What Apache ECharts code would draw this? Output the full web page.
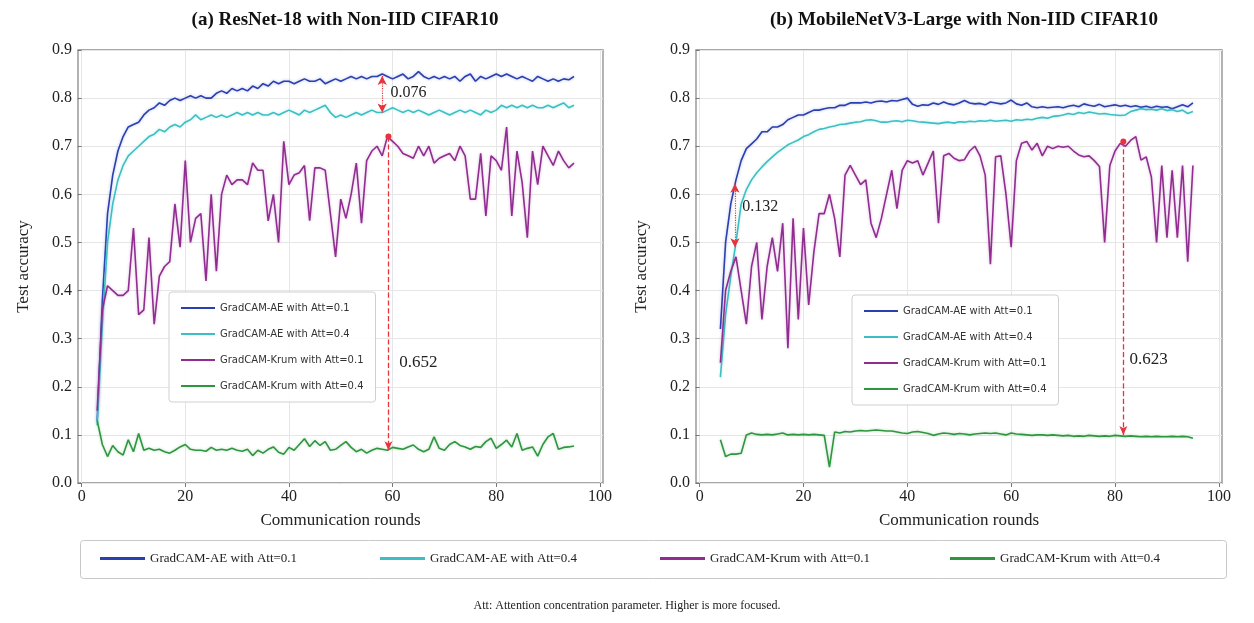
<!DOCTYPE html>
<html>
<head>
<meta charset="utf-8">
<script src="https://cdn.jsdelivr.net/npm/echarts@6/dist/echarts.min.js"></script>
<style>
  html, body { margin: 0; padding: 0; background: #fff; }
  #chart { width: 1254px; height: 623px; }
</style>
</head>
<body>
<div id="chart"></div>
<script>
// series names
var names = ['GradCAM-AE with Att=0.1', 'GradCAM-AE with Att=0.4', 'GradCAM-Krum with Att=0.1', 'GradCAM-Krum with Att=0.4'];
var colors = ['#2a3fb0', '#3bbfc4', '#912d91', '#2f9640'];
var xTicks = [0, 20, 40, 60, 80, 100];

// (a) ResNet-18, rounds 3..95
var startA = 3;
var aeA1 = [0.13, 0.38, 0.56, 0.64, 0.69, 0.72, 0.74, 0.745, 0.75, 0.765,
  0.775, 0.78, 0.79, 0.785, 0.795, 0.80, 0.795, 0.80, 0.805, 0.80,
  0.805, 0.80, 0.80, 0.81, 0.815, 0.81, 0.82, 0.815, 0.82, 0.815,
  0.825, 0.82, 0.83, 0.825, 0.835, 0.83, 0.835, 0.835, 0.83, 0.835,
  0.84, 0.835, 0.835, 0.84, 0.83, 0.835, 0.84, 0.835, 0.84, 0.845,
  0.84, 0.845, 0.84, 0.845, 0.845, 0.85, 0.845, 0.84, 0.845, 0.85,
  0.84, 0.845, 0.855, 0.845, 0.84, 0.845, 0.84, 0.845, 0.84, 0.845,
  0.835, 0.845, 0.85, 0.835, 0.845, 0.84, 0.845, 0.85, 0.845, 0.85,
  0.845, 0.84, 0.845, 0.84, 0.835, 0.845, 0.84, 0.835, 0.84, 0.835,
  0.84, 0.838, 0.845];
var aeA4 = [0.12, 0.33, 0.50, 0.58, 0.63, 0.66, 0.68, 0.69, 0.70, 0.71,
  0.72, 0.725, 0.735, 0.73, 0.74, 0.745, 0.74, 0.75, 0.755, 0.765,
  0.755, 0.76, 0.765, 0.76, 0.765, 0.76, 0.765, 0.77, 0.765, 0.77,
  0.765, 0.77, 0.765, 0.765, 0.77, 0.765, 0.77, 0.775, 0.77, 0.765,
  0.775, 0.77, 0.775, 0.78, 0.785, 0.77, 0.76, 0.765, 0.76, 0.765,
  0.77, 0.765, 0.77, 0.775, 0.77, 0.77, 0.775, 0.78, 0.775, 0.77,
  0.775, 0.77, 0.775, 0.77, 0.765, 0.77, 0.775, 0.77, 0.765, 0.77,
  0.775, 0.77, 0.775, 0.77, 0.765, 0.775, 0.77, 0.775, 0.785, 0.78,
  0.785, 0.78, 0.785, 0.78, 0.785, 0.78, 0.78, 0.785, 0.78, 0.785,
  0.79, 0.78, 0.785];
var krumA1 = [0.15, 0.36, 0.41, 0.40, 0.39, 0.39, 0.40, 0.53, 0.35, 0.36,
  0.51, 0.33, 0.43, 0.45, 0.46, 0.58, 0.49, 0.67, 0.50, 0.55,
  0.56, 0.42, 0.60, 0.44, 0.60, 0.64, 0.62, 0.63, 0.63, 0.62,
  0.665, 0.65, 0.65, 0.545, 0.60, 0.50, 0.71, 0.62, 0.64, 0.645,
  0.66, 0.545, 0.655, 0.655, 0.65, 0.56, 0.47, 0.59, 0.55, 0.60,
  0.665, 0.54, 0.67, 0.69, 0.70, 0.68, 0.72, 0.71, 0.70, 0.685,
  0.68, 0.675, 0.70, 0.68, 0.70, 0.665, 0.675, 0.68, 0.685, 0.67,
  0.70, 0.68, 0.59, 0.59, 0.685, 0.555, 0.68, 0.67, 0.65, 0.74,
  0.555, 0.69, 0.625, 0.51, 0.69, 0.62, 0.70, 0.68, 0.66, 0.69,
  0.67, 0.655, 0.665];
var krumA4 = [0.13, 0.08, 0.055, 0.078, 0.065, 0.058, 0.09, 0.065, 0.103, 0.068,
  0.072, 0.068, 0.07, 0.065, 0.062, 0.068, 0.075, 0.08, 0.07, 0.068,
  0.068, 0.066, 0.074, 0.068, 0.07, 0.068, 0.072, 0.068, 0.066, 0.07,
  0.057, 0.068, 0.062, 0.07, 0.075, 0.064, 0.06, 0.074, 0.068, 0.08,
  0.092, 0.076, 0.088, 0.078, 0.086, 0.068, 0.07, 0.078, 0.086, 0.074,
  0.065, 0.07, 0.062, 0.068, 0.072, 0.07, 0.068, 0.074, 0.072, 0.07,
  0.075, 0.079, 0.07, 0.065, 0.07, 0.096, 0.072, 0.068, 0.08, 0.086,
  0.078, 0.075, 0.07, 0.076, 0.074, 0.086, 0.093, 0.072, 0.08, 0.089,
  0.075, 0.103, 0.068, 0.072, 0.075, 0.056, 0.08, 0.096, 0.103, 0.07,
  0.074, 0.075, 0.077];

// (b) MobileNetV3-Large, rounds 4..95
var startB = 4;
var aeB1 = [0.32, 0.50, 0.58, 0.63, 0.67, 0.695, 0.705, 0.715, 0.73, 0.73,
  0.74, 0.74, 0.745, 0.755, 0.76, 0.765, 0.765, 0.77, 0.775, 0.775,
  0.778, 0.78, 0.78, 0.785, 0.785, 0.79, 0.79, 0.79, 0.792, 0.79,
  0.793, 0.794, 0.792, 0.795, 0.794, 0.797, 0.80, 0.787, 0.783, 0.786,
  0.785, 0.79, 0.787, 0.792, 0.788, 0.786, 0.79, 0.795, 0.79, 0.788,
  0.789, 0.786, 0.792, 0.79, 0.788, 0.79, 0.796, 0.788, 0.785, 0.79,
  0.782, 0.78, 0.782, 0.78, 0.781, 0.782, 0.78, 0.783, 0.785, 0.782,
  0.788, 0.785, 0.783, 0.787, 0.782, 0.784, 0.786, 0.783, 0.785, 0.782,
  0.784, 0.781, 0.783, 0.78, 0.783, 0.781, 0.782, 0.778, 0.782, 0.786,
  0.782, 0.79];
var aeB4 = [0.22, 0.35, 0.43, 0.50, 0.58, 0.61, 0.63, 0.645, 0.657, 0.668,
  0.678, 0.687, 0.695, 0.703, 0.708, 0.713, 0.72, 0.724, 0.73, 0.735,
  0.737, 0.74, 0.742, 0.745, 0.746, 0.748, 0.75, 0.751, 0.754, 0.755,
  0.753, 0.75, 0.75, 0.752, 0.753, 0.751, 0.754, 0.753, 0.751, 0.75,
  0.749, 0.748, 0.747, 0.749, 0.75, 0.748, 0.751, 0.75, 0.752, 0.751,
  0.753, 0.752, 0.754, 0.752, 0.753, 0.754, 0.752, 0.755, 0.754, 0.756,
  0.755, 0.758, 0.76, 0.758, 0.762, 0.763, 0.765, 0.768, 0.766, 0.77,
  0.768, 0.771, 0.769, 0.767, 0.768, 0.766, 0.765, 0.764, 0.765, 0.772,
  0.775, 0.778, 0.776, 0.777, 0.775, 0.778, 0.774, 0.776, 0.772, 0.775,
  0.768, 0.772];
var krumB1 = [0.25, 0.40, 0.44, 0.47, 0.40, 0.33, 0.45, 0.50, 0.34, 0.45,
  0.51, 0.44, 0.54, 0.28, 0.55, 0.34, 0.53, 0.37, 0.48, 0.56,
  0.56, 0.60, 0.55, 0.47, 0.64, 0.66, 0.64, 0.62, 0.63, 0.54,
  0.51, 0.55, 0.60, 0.65, 0.57, 0.65, 0.67, 0.665, 0.67, 0.64,
  0.665, 0.69, 0.54, 0.68, 0.685, 0.675, 0.67, 0.672, 0.69, 0.70,
  0.68, 0.64, 0.455, 0.678, 0.68, 0.60, 0.49, 0.67, 0.706, 0.71,
  0.692, 0.706, 0.68, 0.70, 0.695, 0.70, 0.698, 0.70, 0.69, 0.682,
  0.678, 0.68, 0.67, 0.658, 0.50, 0.66, 0.69, 0.706, 0.70, 0.712,
  0.72, 0.671, 0.678, 0.636, 0.50, 0.66, 0.51, 0.65, 0.51, 0.66,
  0.46, 0.66];
var krumB4 = [0.09, 0.055, 0.06, 0.06, 0.062, 0.10, 0.104, 0.101, 0.10, 0.101,
  0.10, 0.102, 0.104, 0.10, 0.101, 0.10, 0.101, 0.10, 0.101, 0.10,
  0.099, 0.033, 0.106, 0.104, 0.107, 0.106, 0.108, 0.109, 0.108, 0.109,
  0.11, 0.109, 0.108, 0.108, 0.106, 0.104, 0.103, 0.106, 0.107, 0.105,
  0.103, 0.099, 0.102, 0.104, 0.103, 0.101, 0.103, 0.102, 0.10, 0.102,
  0.103, 0.104, 0.103, 0.104, 0.102, 0.10, 0.104, 0.102, 0.101, 0.10,
  0.099, 0.10, 0.10, 0.099, 0.10, 0.099, 0.098, 0.099, 0.097, 0.098,
  0.097, 0.099, 0.098, 0.097, 0.098, 0.097, 0.099, 0.098, 0.097, 0.098,
  0.097, 0.096, 0.097, 0.096, 0.097, 0.096, 0.096, 0.097, 0.096, 0.097,
  0.096, 0.093];

// annotations: [round, from, to], label [round, value, text]
var gapA = [58, 0.846, 0.770];
var gapALabel = [59.6, 0.812, '0.076'];
var dropA = [59.2, 0.72, 0.068];
var dropALabel = [61.3, 0.25, '0.652'];
var gapB = [6.8, 0.622, 0.49];
var gapBLabel = [8.2, 0.575, '0.132'];
var dropB = [81.6, 0.71, 0.10];
var dropBLabel = [82.8, 0.257, '0.623'];

var serif = 'Liberation Serif';
var red = '#e8333c';

function pairs(start, ys) {
  return ys.map(function (y, i) { return [start + i, y]; });
}

function gapMark(g, lbl) {
  return {
    markLine: {
      silent: true, animation: false,
      symbol: ['arrow', 'arrow'], symbolSize: [7, 9],
      lineStyle: { color: red, type: 'dotted', width: 1.2 },
      label: { show: false },
      data: [[{ coord: [g[0], g[1]] }, { coord: [g[0], g[2]] }]]
    },
    markPoint: {
      silent: true, animation: false,
      symbol: 'circle', symbolSize: 0,
      label: { show: true, position: 'right', distance: 0, formatter: lbl[2],
        fontFamily: serif, fontSize: 16, color: '#222' },
      data: [{ coord: [lbl[0], lbl[1]] }]
    }
  };
}

function dropMark(d, lbl) {
  return {
    markLine: {
      silent: true, animation: false,
      symbol: ['circle', 'arrow'], symbolSize: [6, 9],
      lineStyle: { color: red, type: 'dashed', width: 1.3 },
      label: { show: false },
      data: [[{ coord: [d[0], d[1]] }, { coord: [d[0], d[2]] }]]
    },
    markPoint: {
      silent: true, animation: false,
      symbol: 'circle', symbolSize: 0,
      label: { show: true, position: 'right', distance: 0, formatter: lbl[2],
        fontFamily: serif, fontSize: 17, color: '#222' },
      data: [{ coord: [lbl[0], lbl[1]] }]
    }
  };
}

function lineSeries(idx, grid, start, ys, extra) {
  var s = {
    name: names[idx], type: 'line',
    xAxisIndex: grid, yAxisIndex: grid,
    data: pairs(start, ys),
    showSymbol: false, animation: false,
    lineStyle: { width: 1.6, color: colors[idx], shadowBlur: 3, shadowColor: colors[idx] + '55' },
    itemStyle: { color: colors[idx] }
  };
  if (extra) {
    s.markLine = extra.markLine;
    s.markPoint = extra.markPoint;
  }
  return s;
}

function xAxisCfg(grid) {
  return {
    type: 'value', gridIndex: grid, min: -0.7, max: 100.6,
    name: 'Communication rounds', nameLocation: 'middle', nameGap: 29,
    nameTextStyle: { fontFamily: serif, fontSize: 17, color: '#222' },
    axisLine: { show: false },
    axisTick: { show: true, length: 4, customValues: xTicks, lineStyle: { color: '#777' } },
    axisLabel: { customValues: xTicks, fontFamily: serif, fontSize: 16, color: '#222', margin: 6 },
    splitLine: { show: true, lineStyle: { color: '#e6e6e6', width: 1 } }
  };
}

function yAxisCfg(grid) {
  return {
    type: 'value', gridIndex: grid, min: 0, max: 0.9, interval: 0.1,
    name: 'Test accuracy', nameLocation: 'middle', nameGap: 46,
    nameTextStyle: { fontFamily: serif, fontSize: 17, color: '#222' },
    axisLine: { show: false },
    axisTick: { show: true, length: 4, lineStyle: { color: '#777' } },
    axisLabel: { fontFamily: serif, fontSize: 16, color: '#222', margin: 6,
      formatter: function (v) { return v.toFixed(1); } },
    splitLine: { show: true, lineStyle: { color: '#e6e6e6', width: 1 } }
  };
}

function innerLegend(left, top) {
  return {
    orient: 'vertical', left: left, top: top, data: names,
    icon: 'rect', itemWidth: 34, itemHeight: 2, itemGap: 16,
    padding: [11, 12],
    backgroundColor: 'rgba(255,255,255,0.85)', borderColor: '#d0d0d0', borderWidth: 1, borderRadius: 3,
    textStyle: { fontFamily: 'DejaVu Sans', fontSize: 10, color: '#333' },
    selectedMode: false
  };
}

// bottom legend: one entry per slot, box drawn separately
var bottomSlots = [100, 380, 660, 950];
function bottomLegend(i) {
  return {
    orient: 'horizontal', left: bottomSlots[i], top: 552, data: [names[i]],
    icon: 'rect', itemWidth: 45, itemHeight: 3, padding: 0,
    textStyle: { fontFamily: serif, fontSize: 13, color: '#222' },
    selectedMode: false
  };
}

var myChart = echarts.init(document.getElementById('chart'));

var option = {
  backgroundColor: '#fff',
  animation: false,
  title: [
    { text: '(a) ResNet-18 with Non-IID CIFAR10', left: 340, textAlign: 'center', top: 6,
      textStyle: { fontFamily: serif, fontWeight: 'bold', fontSize: 19, color: '#111' } },
    { text: '(b) MobileNetV3-Large with Non-IID CIFAR10', left: 959, textAlign: 'center', top: 6,
      textStyle: { fontFamily: serif, fontWeight: 'bold', fontSize: 19, color: '#111' } },
    { text: 'Att: Attention concentration parameter. Higher is more focused.', left: 'center', top: 595,
      textStyle: { fontFamily: serif, fontWeight: 'normal', fontSize: 12, color: '#222' } }
  ],
  graphic: [
    { type: 'rect', left: 80, top: 540, z: 0,
      shape: { width: 1146, height: 38, r: 3 },
      style: { fill: '#fff', stroke: '#c8c8c8', lineWidth: 1 } }
  ],
  grid: [
    { left: 78, top: 50, width: 525, height: 433, show: true, borderColor: '#8a8a8a', borderWidth: 1.3 },
    { left: 696, top: 50, width: 526, height: 433, show: true, borderColor: '#8a8a8a', borderWidth: 1.3 }
  ],
  xAxis: [xAxisCfg(0), xAxisCfg(1)],
  yAxis: [yAxisCfg(0), yAxisCfg(1)],
  legend: [
    innerLegend(169, 292),
    innerLegend(852, 295),
    bottomLegend(0), bottomLegend(1), bottomLegend(2), bottomLegend(3)
  ],
  series: [
    lineSeries(0, 0, startA, aeA1, gapMark(gapA, gapALabel)),
    lineSeries(1, 0, startA, aeA4),
    lineSeries(2, 0, startA, krumA1, dropMark(dropA, dropALabel)),
    lineSeries(3, 0, startA, krumA4),
    lineSeries(0, 1, startB, aeB1, gapMark(gapB, gapBLabel)),
    lineSeries(1, 1, startB, aeB4),
    lineSeries(2, 1, startB, krumB1, dropMark(dropB, dropBLabel)),
    lineSeries(3, 1, startB, krumB4)
  ]
};

myChart.setOption(option);
</script>
</body>
</html>
